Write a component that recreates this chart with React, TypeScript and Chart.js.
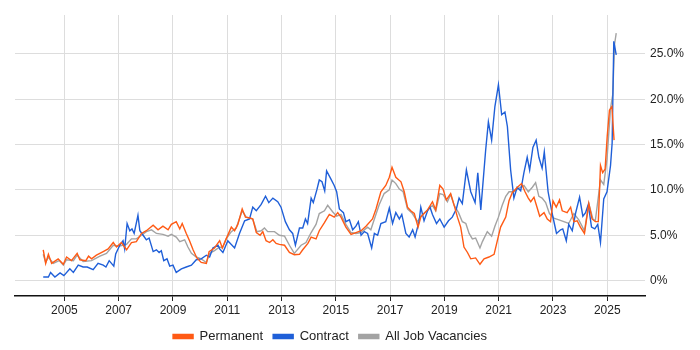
import React, { useEffect, useRef } from "react";
import { Chart, registerables } from "chart.js";

Chart.register(...registerables);

const seriesNames = ["Permanent", "Contract", "All Job Vacancies"];
const seriesColors = ["#ff5a14", "#1f5fd8", "#a3a3a3"];
const yearTicks = [2005, 2007, 2009, 2011, 2013, 2015, 2017, 2019, 2021, 2023, 2025];
const percentTicks = [0, 5, 10, 15, 20, 25];

const permYears = [
  2004.22, 2004.31, 2004.41, 2004.53, 2004.77, 2004.96, 2005.08, 2005.26, 2005.47, 2005.57, 2005.79, 2005.89, 2006.0,
  2006.18, 2006.43, 2006.61, 2006.8, 2006.92, 2007.1, 2007.29, 2007.47, 2007.65, 2007.84, 2008.02, 2008.27, 2008.45,
  2008.63, 2008.82, 2008.94, 2009.12, 2009.25, 2009.34, 2009.49, 2009.61, 2009.74, 2009.88, 2010.04, 2010.23, 2010.33,
  2010.53, 2010.72, 2010.82, 2010.96, 2011.15, 2011.27, 2011.39, 2011.55, 2011.67, 2011.84, 2011.94, 2012.07, 2012.21,
  2012.31, 2012.43, 2012.56, 2012.68, 2012.8, 2012.92, 2013.11, 2013.29, 2013.47, 2013.66, 2013.78, 2013.97, 2014.09,
  2014.27, 2014.39, 2014.58, 2014.76, 2014.94, 2015.07, 2015.19, 2015.37, 2015.56, 2015.74, 2015.93, 2016.11, 2016.35,
  2016.48, 2016.66, 2016.84, 2016.97, 2017.07, 2017.21, 2017.4, 2017.52, 2017.64, 2017.76, 2017.89, 2018.03, 2018.13,
  2018.25, 2018.38, 2018.56, 2018.68, 2018.83, 2018.95, 2019.07, 2019.23, 2019.36, 2019.48, 2019.6, 2019.72, 2019.85,
  2019.97, 2020.15, 2020.31, 2020.46, 2020.64, 2020.83, 2020.95, 2021.07, 2021.26, 2021.38, 2021.5, 2021.69, 2021.84,
  2021.97, 2022.09, 2022.18, 2022.3, 2022.42, 2022.51, 2022.67, 2022.79, 2022.91, 2023.0, 2023.12, 2023.24, 2023.34,
  2023.52, 2023.65, 2023.77, 2023.89, 2024.01, 2024.16, 2024.32, 2024.44, 2024.56, 2024.67, 2024.75, 2024.83, 2024.92,
  2025.0, 2025.08, 2025.17, 2025.25,
];
const permValues = [
  3.4, 1.9, 2.9, 1.9, 2.4, 1.8, 2.6, 2.2, 3.0, 2.3, 2.2, 2.7, 2.4,
  2.8, 3.2, 3.5, 4.2, 3.7, 4.2, 3.4, 4.2, 4.3, 5.2, 5.5, 6.1, 5.6,
  6.0, 5.6, 6.2, 6.5, 5.7, 6.3, 5.2, 4.4, 3.4, 2.5, 2.0, 1.9, 3.2,
  3.6, 4.4, 3.6, 4.6, 5.9, 5.5, 6.2, 7.9, 7.0, 6.9, 6.8, 5.3, 5.0,
  5.4, 4.4, 4.2, 4.5, 4.1, 4.0, 3.9, 3.1, 2.85, 2.9, 3.4, 4.1, 4.8,
  4.6, 5.5, 6.4, 7.3, 7.0, 7.5, 7.0, 5.9, 5.1, 5.3, 5.5, 6.0, 6.8,
  7.9, 9.8, 10.5, 11.4, 12.5, 11.4, 10.9, 9.8, 8.1, 7.7, 7.4, 5.9, 7.0,
  7.4, 7.8, 8.7, 7.8, 10.5, 10.1, 8.9, 9.6, 8.3, 7.0, 5.9, 3.7, 3.1,
  2.4, 2.5, 1.8, 2.4, 2.6, 2.9, 4.4, 5.9, 7.0, 8.8, 9.7, 10.3, 10.7,
  9.8, 9.1, 8.7, 9.2, 8.0, 7.1, 7.5, 6.8, 6.5, 8.8, 8.1, 8.9, 7.7,
  7.5, 8.1, 6.5, 6.6, 5.9, 5.2, 8.5, 6.8, 6.5, 6.5, 12.7, 11.9, 12.3,
  16.0, 18.8, 19.2, 15.5,
];

const contYears = [
  2004.22, 2004.41, 2004.49, 2004.65, 2004.84, 2004.98, 2005.2, 2005.33, 2005.51, 2005.69, 2005.84, 2006.06, 2006.24,
  2006.43, 2006.53, 2006.65, 2006.82, 2006.89, 2007.04, 2007.16, 2007.22, 2007.31, 2007.41, 2007.49, 2007.57, 2007.71,
  2007.78, 2007.9, 2008.02, 2008.12, 2008.27, 2008.39, 2008.49, 2008.57, 2008.66, 2008.78, 2008.88, 2009.0, 2009.12,
  2009.31, 2009.49, 2009.68, 2009.86, 2010.04, 2010.23, 2010.35, 2010.47, 2010.66, 2010.72, 2010.84, 2011.02, 2011.27,
  2011.45, 2011.64, 2011.82, 2011.94, 2012.07, 2012.25, 2012.41, 2012.53, 2012.68, 2012.86, 2012.98, 2013.14, 2013.29,
  2013.41, 2013.51, 2013.66, 2013.78, 2013.88, 2013.96, 2014.09, 2014.17, 2014.3, 2014.39, 2014.49, 2014.59, 2014.66,
  2014.82, 2014.94, 2015.03, 2015.13, 2015.28, 2015.37, 2015.5, 2015.62, 2015.74, 2015.83, 2015.93, 2016.05, 2016.17,
  2016.32, 2016.42, 2016.54, 2016.66, 2016.84, 2016.97, 2017.09, 2017.21, 2017.34, 2017.43, 2017.58, 2017.7, 2017.83,
  2017.92, 2018.07, 2018.13, 2018.25, 2018.38, 2018.47, 2018.56, 2018.71, 2018.83, 2018.99, 2019.15, 2019.29, 2019.44,
  2019.54, 2019.66, 2019.81, 2019.97, 2020.13, 2020.23, 2020.34, 2020.52, 2020.62, 2020.74, 2020.86, 2020.99, 2021.11,
  2021.23, 2021.32, 2021.44, 2021.56, 2021.68, 2021.81, 2021.93, 2022.05, 2022.14, 2022.26, 2022.38, 2022.48, 2022.6,
  2022.68, 2022.82, 2022.97, 2023.13, 2023.28, 2023.36, 2023.49, 2023.58, 2023.71, 2023.83, 2023.98, 2024.1, 2024.2,
  2024.3, 2024.42, 2024.54, 2024.65, 2024.75, 2024.87, 2024.99, 2025.12, 2025.18, 2025.24, 2025.33,
];
const contValues = [
  0.4, 0.4, 0.9, 0.4, 0.85, 0.55, 1.3, 0.9, 1.7, 1.5, 1.5, 1.2, 1.9,
  1.7, 1.5, 2.2, 1.6, 2.95, 3.9, 4.4, 3.5, 6.3, 5.5, 5.7, 5.2, 7.2,
  5.5, 5.0, 4.5, 4.7, 3.2, 3.4, 3.1, 3.3, 2.2, 2.4, 1.6, 1.7, 0.9,
  1.3, 1.5, 1.7, 2.3, 2.4, 2.8, 2.6, 3.6, 3.9, 3.5, 3.1, 4.4, 3.6,
  5.2, 6.6, 6.8, 8.1, 7.7, 8.4, 9.3, 8.6, 9.1, 8.7, 8.1, 6.5, 5.6,
  5.2, 3.9, 5.8, 5.8, 6.8, 6.3, 9.1, 8.6, 10.0, 11.1, 10.9, 9.9, 12.1,
  11.2, 10.5, 9.8, 7.9, 7.5, 6.5, 6.7, 5.6, 6.0, 6.5, 5.0, 5.4, 5.2,
  3.6, 5.2, 5.0, 6.3, 6.5, 8.0, 6.3, 7.5, 6.8, 7.3, 5.2, 4.8, 5.6,
  4.8, 6.6, 8.1, 6.6, 7.7, 8.1, 7.3, 6.3, 6.8, 5.9, 6.6, 7.0, 7.9,
  9.1, 8.5, 12.2, 9.8, 8.6, 11.9, 7.8, 14.4, 17.5, 15.5, 19.2, 21.6, 18.3,
  18.6, 17.0, 12.2, 9.1, 10.3, 9.9, 11.9, 13.6, 12.2, 14.7, 15.5, 13.6, 12.4,
  14.2, 9.8, 7.4, 5.2, 5.6, 5.7, 4.4, 6.2, 5.5, 7.4, 9.2, 7.1, 7.5,
  8.4, 5.9, 5.7, 6.2, 4.2, 9.0, 9.8, 12.7, 15.2, 26.4, 24.9,
];

const allYears = [
  2004.22, 2004.31, 2004.41, 2004.59, 2004.81, 2004.96, 2005.08, 2005.33, 2005.47, 2005.69, 2006.0, 2006.31, 2006.55,
  2006.8, 2007.04, 2007.29, 2007.47, 2007.65, 2007.84, 2008.02, 2008.21, 2008.39, 2008.63, 2008.82, 2008.94, 2009.12,
  2009.25, 2009.43, 2009.55, 2009.68, 2009.86, 2010.04, 2010.23, 2010.35, 2010.53, 2010.72, 2010.82, 2010.96, 2011.15,
  2011.33, 2011.55, 2011.7, 2011.94, 2012.09, 2012.25, 2012.37, 2012.49, 2012.74, 2012.92, 2013.11, 2013.29, 2013.47,
  2013.72, 2013.9, 2014.09, 2014.27, 2014.39, 2014.58, 2014.7, 2014.88, 2015.03, 2015.19, 2015.37, 2015.56, 2015.74,
  2015.93, 2016.17, 2016.29, 2016.42, 2016.6, 2016.78, 2016.97, 2017.07, 2017.21, 2017.34, 2017.48, 2017.64, 2017.82,
  2018.01, 2018.13, 2018.31, 2018.56, 2018.68, 2018.83, 2018.95, 2019.11, 2019.23, 2019.36, 2019.52, 2019.66, 2019.79,
  2019.91, 2020.03, 2020.15, 2020.31, 2020.4, 2020.58, 2020.74, 2020.86, 2020.99, 2021.13, 2021.26, 2021.38, 2021.56,
  2021.75, 2021.93, 2022.09, 2022.24, 2022.36, 2022.48, 2022.6, 2022.73, 2022.87, 2023.03, 2023.22, 2023.4, 2023.58,
  2023.77, 2023.95, 2024.16, 2024.32, 2024.47, 2024.56, 2024.75, 2024.87, 2024.99, 2025.12, 2025.2, 2025.27, 2025.33,
];
const allValues = [
  2.9, 2.0, 2.6, 1.9, 2.2, 1.7, 2.3, 2.2, 2.8, 2.1, 2.2, 2.7, 3.0,
  3.9, 3.8, 4.0, 4.6, 4.6, 5.0, 5.4, 5.6, 5.2, 5.1, 4.9, 5.1, 4.8,
  4.3, 4.5, 3.7, 3.0, 2.6, 2.4, 2.0, 3.0, 3.3, 3.7, 3.6, 4.6, 5.4,
  5.8, 7.7, 7.0, 6.8, 5.4, 5.5, 5.8, 5.4, 5.4, 5.0, 4.9, 3.9, 3.0,
  3.9, 4.2, 5.3, 6.2, 7.4, 7.7, 8.3, 7.6, 7.1, 7.3, 6.2, 5.3, 5.2,
  5.3, 5.9, 5.6, 6.8, 8.4, 9.6, 10.0, 11.1, 10.7, 10.1, 9.8, 7.9, 7.4,
  6.5, 7.1, 7.6, 8.3, 7.7, 9.6, 9.5, 8.7, 9.5, 8.3, 7.5, 6.5, 6.3,
  5.2, 4.6, 4.7, 3.6, 4.3, 5.4, 4.9, 6.0, 7.0, 8.3, 9.3, 9.8, 9.8,
  10.2, 10.5, 9.8, 10.3, 10.8, 9.3, 9.1, 8.6, 7.4, 6.9, 6.7, 6.5, 6.3,
  7.4, 6.7, 5.5, 8.5, 6.8, 6.6, 11.1, 10.6, 13.4, 19.0, 20.5, 26.1, 27.3,
];

const toPoints = (xs: number[], ys: number[]) => xs.map((x, i) => ({ x, y: ys[i] }));

export default function App() {
  const ref = useRef<HTMLCanvasElement | null>(null);

  useEffect(() => {
    if (!ref.current) return;
    const seriesData = [
      toPoints(permYears, permValues),
      toPoints(contYears, contValues),
      toPoints(allYears, allValues),
    ];
    const chart = new Chart(ref.current, {
      type: "line",
      data: {
        datasets: seriesNames.map((name, i) => ({
          label: name,
          data: seriesData[i],
          borderColor: seriesColors[i],
          backgroundColor: seriesColors[i],
          borderWidth: 1.4,
          pointRadius: 0,
          tension: 0,
          fill: false,
        })),
      },
      options: {
        animation: false,
        responsive: true,
        maintainAspectRatio: false,
        layout: { padding: { left: 15, top: 15, right: 0, bottom: -3 } },
        plugins: {
          tooltip: { enabled: false },
          legend: {
            position: "bottom",
            fullSize: false,
            labels: {
              boxWidth: 20,
              boxHeight: 4,
              padding: 10,
              color: "#222",
              font: { family: "Liberation Sans, Arial, sans-serif", size: 13 },
            },
          },
        },
        scales: {
          x: {
            type: "linear",
            min: 2003.18,
            max: 2026.39,
            afterBuildTicks: (scale: any) => {
              scale.ticks = yearTicks.map((v) => ({ value: v }));
            },
            afterFit: (scale: any) => {
              scale.height = 24;
            },
            ticks: {
              autoSkip: false,
              maxRotation: 0,
              padding: 2,
              color: "#222",
              font: { family: "Liberation Sans, Arial, sans-serif", size: 12 },
              callback: (v: any) => String(v),
            },
            grid: { color: "#dddddd", tickColor: "#222", tickLength: 5, drawTicks: true },
            border: { color: "#111", width: 1.5 },
          },
          y: {
            position: "right",
            min: -1.7,
            max: 29.3,
            afterBuildTicks: (scale: any) => {
              scale.ticks = percentTicks.map((v) => ({ value: v }));
            },
            afterFit: (scale: any) => {
              scale.width = 55;
            },
            ticks: {
              padding: 5,
              color: "#222",
              font: { family: "Liberation Sans, Arial, sans-serif", size: 12 },
              callback: (v: any) => (v === 0 ? "0%" : Number(v).toFixed(1) + "%"),
            },
            grid: { color: "#dddddd", drawTicks: false },
            border: { display: false },
          },
        },
      },
    });
    return () => chart.destroy();
  }, []);

  return (
    <div style={{ position: "fixed", left: 0, top: 0, width: 700, height: 350, background: "#fff" }}>
      <canvas ref={ref} />
    </div>
  );
}
